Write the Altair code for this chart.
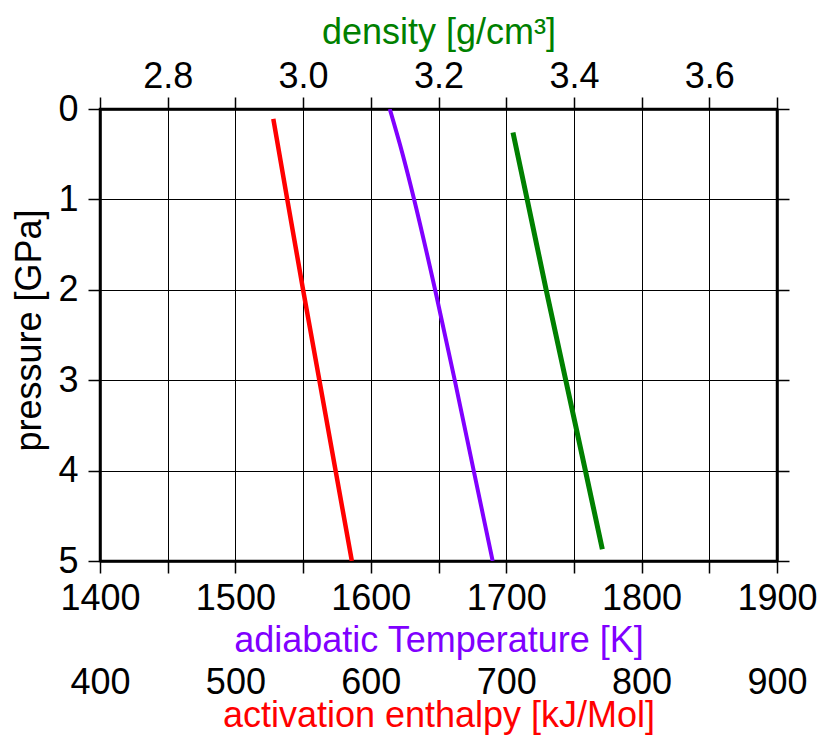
import altair as alt
import pandas as pd

# ---- data ----
temp_p = [0.0, 0.5, 1.0, 2.0, 3.0, 4.0, 5.0]
temp_k = [1614, 1623.5, 1632, 1647.5, 1662, 1676, 1690]

enth_p = [0.11, 1.0, 2.0, 3.0, 4.0, 5.0]
enth_kj = [528, 538.3, 550, 562, 574, 586]

dens_p = [0.26, 1.0, 2.0, 3.0, 4.0, 4.87]
dens_g = [3.310, 3.331, 3.359, 3.388, 3.417, 3.442]

temp_ticks = [1400, 1450, 1500, 1550, 1600, 1650, 1700, 1750, 1800, 1850, 1900]
enth_ticks = [400, 500, 600, 700, 800, 900]
dens_ticks = [2.7, 2.8, 2.9, 3.0, 3.1, 3.2, 3.3, 3.4, 3.5, 3.6, 3.7]
p_ticks = [0, 1, 2, 3, 4, 5]

FONT = "Liberation Sans"
PURPLE = "#8000ff"
RED = "#ff0000"
GREEN = "#008000"

df_t = pd.DataFrame({"P": temp_p, "T": temp_k})
df_h = pd.DataFrame({"P": enth_p, "H": enth_kj})
df_d = pd.DataFrame({"P": dens_p, "D": dens_g})

yscale = alt.Scale(domain=[0, 5], reverse=True, nice=False, zero=False)

purple = alt.Chart(df_t).mark_line(color=PURPLE, strokeWidth=4, clip=True,
                                   interpolate="monotone").encode(
    x=alt.X("T:Q",
            scale=alt.Scale(domain=[1400, 1900], nice=False, zero=False),
            axis=alt.Axis(orient="bottom", values=temp_ticks, format="d",
                          labelExpr="datum.value % 100 == 0 ? datum.label : ''",
                          grid=True, labelPadding=8,
                          title="adiabatic Temperature [K]", titleColor=PURPLE,
                          titleY=90, titleBaseline="alphabetic")),
    y=alt.Y("P:Q", scale=yscale,
            axis=alt.Axis(orient="left", values=p_ticks, grid=True, labelPadding=10,
                          title="pressure [GPa]", titleAngle=270, titleX=-60, titleY=221,
                          titleBaseline="alphabetic", titleAlign="center")),
    order="P:Q",
)

red = alt.Chart(df_h).mark_line(color=RED, strokeWidth=4.5, clip=True).encode(
    x=alt.X("H:Q",
            scale=alt.Scale(domain=[400, 900], nice=False, zero=False),
            axis=alt.Axis(orient="bottom", values=enth_ticks, offset=85, format="d",
                          ticks=False, domain=False, grid=False, labelPadding=19,
                          title="activation enthalpy [kJ/Mol]", titleColor=RED,
                          titleY=80, titleBaseline="alphabetic")),
    y=alt.Y("P:Q", scale=yscale,
            axis=alt.Axis(orient="right", values=p_ticks, labels=False, grid=False, title=None)),
    order="P:Q",
)

green = alt.Chart(df_d).mark_line(color=GREEN, strokeWidth=5, clip=True).encode(
    x=alt.X("D:Q",
            scale=alt.Scale(domain=[2.7, 3.7], nice=False, zero=False),
            axis=alt.Axis(orient="top", values=dens_ticks,
                          labelExpr="round(datum.value * 10) % 2 == 0 ? format(datum.value, '.1f') : ''",
                          grid=False, labelPadding=2,
                          title="density [g/cm³]", titleColor=GREEN,
                          titleY=-66, titleBaseline="alphabetic")),
    y=alt.Y("P:Q", scale=yscale, axis=None),
    order="P:Q",
)

chart = alt.layer(purple, red, green).resolve_scale(
    x="independent", y="shared"
).resolve_axis(
    x="independent", y="independent"
).properties(
    width=677, height=452,
    padding={"left": 100, "top": 109, "right": 44, "bottom": 175},
    autosize=alt.AutoSizeParams(type="none"),
    background="white",
).configure_view(
    stroke="black", strokeWidth=2.5
).configure_axis(
    domainColor="black", domainWidth=2.5,
    tickColor="black", tickWidth=1.5, tickSize=12,
    gridColor="black", gridWidth=1, gridOpacity=1,
    labelFont=FONT, labelFontSize=36, labelColor="black",
    labelFlush=False, labelOverlap=False,
    titleFont=FONT, titleFontSize=36, titleFontWeight="normal",
)

chart.save("out.html", embed_options={"renderer": "svg", "actions": False})
